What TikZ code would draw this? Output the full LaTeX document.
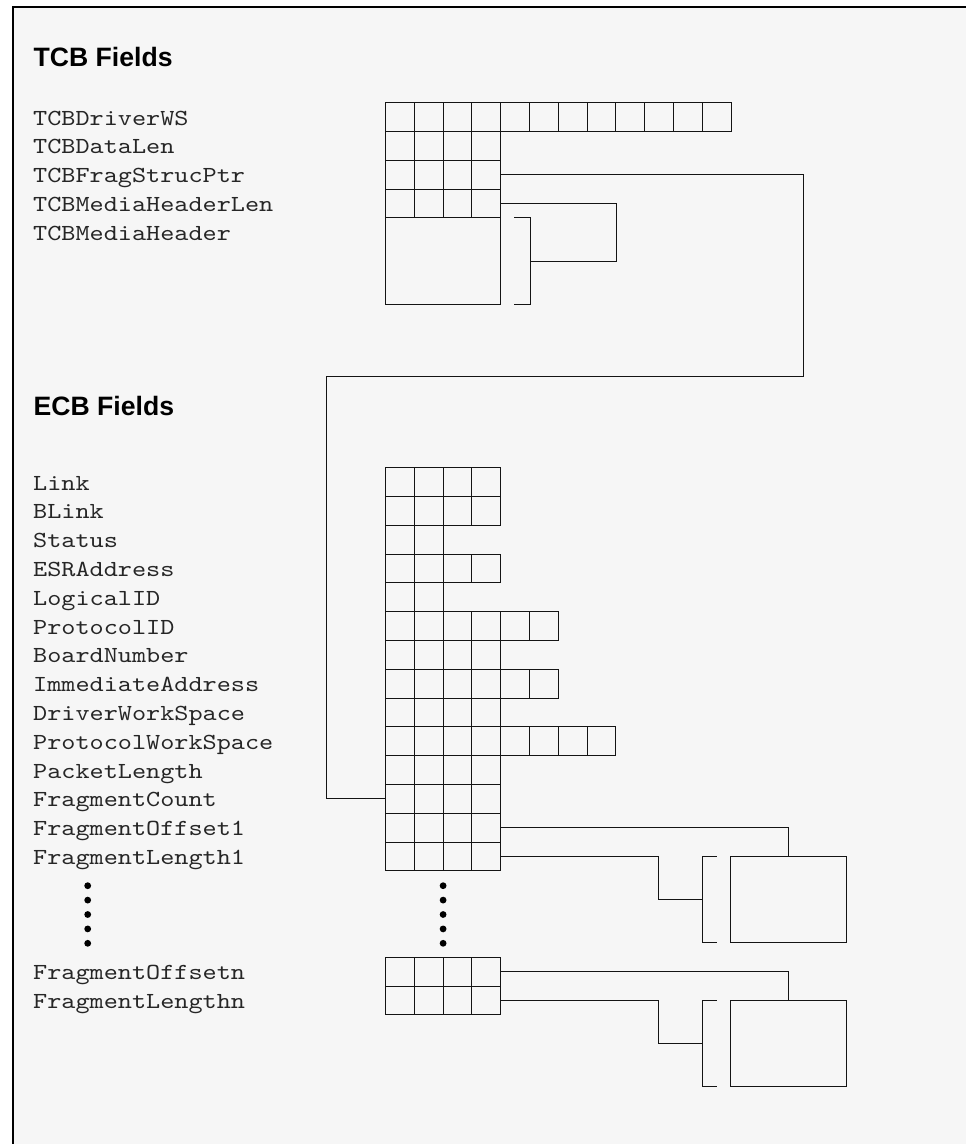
\documentclass[tikz,border=0pt]{standalone}
\usepackage{fontspec}
\newfontfamily\monofont{lmmono10-regular.otf}[FakeStretch=1.17]
\newfontfamily\headfont{Liberation Sans}
\definecolor{bgray}{RGB}{246,246,246}
\definecolor{linec}{RGB}{20,20,20}
\tikzset{
  cell/.style={draw=linec, line width=1.1pt, minimum size=28.8pt, inner sep=0pt, outer sep=0pt},
  lbl/.style={anchor=base west, inner sep=0pt, font=\monofont\fontsize{23}{28}\selectfont, text=black!85},
  head/.style={anchor=base west, inner sep=0pt, font=\headfont\bfseries\fontsize{26.6}{30}\selectfont},
  conn/.style={draw=linec, line width=1pt},
  bigbox/.style={draw=linec, line width=1.1pt, inner sep=0pt, outer sep=0pt},
  dotc/.style={fill=black},
}
\newcommand\cellrow[4]{%
  \foreach \i in {1,...,#4}{\node[cell] (#1-\i) at ({#2+(\i-0.5)*28.8},{#3+14.4}) {};}}
\begin{document}
\begin{tikzpicture}[x=1pt,y=-1pt]
\useasboundingbox (0,0) rectangle (966,1144);
\clip (0,0) rectangle (966,1144);
\fill[white] (0,0) rectangle (966,1144);
\fill[bgray] (12.5,7) rectangle (990,1170);
\draw[line width=2pt, black] (12.5,1170) -- (12.5,7) -- (990,7);

% titles
\node[head] (tcbtitle) at (33.5,66.7) {TCB Fields};
\node[head] (ecbtitle) at (33.5,415.7) {ECB Fields};

% TCB labels and cells
\foreach \t [count=\r] in {TCBDriverWS,TCBDataLen,TCBFragStrucPtr,TCBMediaHeaderLen,TCBMediaHeader}{
  \node[lbl] (tl\r) at (33,{102.7+(\r-1)*28.8+22.3}) {\t};
}
\cellrow{tcb1}{385.5}{102.7}{12}
\cellrow{tcb2}{385.5}{131.5}{4}
\cellrow{tcb3}{385.5}{160.3}{4}
\cellrow{tcb4}{385.5}{189.1}{4}
\node[bigbox, minimum width=115.2pt, minimum height=86.4pt, anchor=north west] (mh) at (385.5,217.9) {};

% ECB labels and cells
\foreach \n/\t [count=\r] in {4/Link,4/BLink,2/Status,4/ESRAddress,2/LogicalID,6/ProtocolID,4/BoardNumber,6/ImmediateAddress,4/DriverWorkSpace,8/ProtocolWorkSpace,4/PacketLength,4/FragmentCount,4/FragmentOffset1,4/FragmentLength1}{
  \node[lbl] (el\r) at (33,{467.7+(\r-1)*28.8+22.3}) {\t};
  \cellrow{ecb\r}{385.5}{467.7+(\r-1)*28.8}{\n}
}
\node[lbl] (eln1) at (33,979.6) {FragmentOffsetn};
\node[lbl] (eln2) at (33,1008.4) {FragmentLengthn};
\cellrow{fn1}{385.5}{957.3}{4}
\cellrow{fn2}{385.5}{986.1}{4}

% ellipsis dots
\foreach \y in {885.7,900.1,914.5,928.9,943.3}{
  \fill[dotc] (87.7,\y) circle (3.4);
  \fill[dotc] (443.1,\y) circle (3.4);
}

% fragment boxes
\node[bigbox, minimum width=115.6pt, minimum height=86.4pt, anchor=north west] (fb1) at (730.7,856.5) {};
\node[bigbox, minimum width=115.6pt, minimum height=86.4pt, anchor=north west] (fbn) at (730.7,1000.5) {};

% brackets
\draw[conn] (514.3,217.9) -- (530,217.9) -- (530,304.3) -- (514.3,304.3);
\draw[conn] (716.7,856.5) -- (702,856.5) -- (702,942.9) -- (716.7,942.9);
\draw[conn] (716.7,1000.5) -- (702,1000.5) -- (702,1086.9) -- (716.7,1086.9);
\coordinate (br0) at (530,261.7);
\coordinate (br1) at (702,899.7);
\coordinate (brn) at (702,1043.7);

% connectors
\coordinate (c1) at (803,376.7);
\coordinate (c2) at (326,376.7);
\draw[conn] (tcb3-4.east) -| (c1) -- (c2) |- (ecb12-1.west);
\coordinate (c3) at (616,261.7);
\draw[conn] (tcb4-4.east) -| (c3) -- (br0);
\draw[conn] (ecb13-4.east) -| (fb1.north);
\coordinate (c4) at (658.7,899.7);
\draw[conn] (ecb14-4.east) -| (c4) -- (br1);
\draw[conn] (fn1-4.east) -| (fbn.north);
\coordinate (c5) at (658.7,1043.7);
\draw[conn] (fn2-4.east) -| (c5) -- (brn);
\end{tikzpicture}
\end{document}
